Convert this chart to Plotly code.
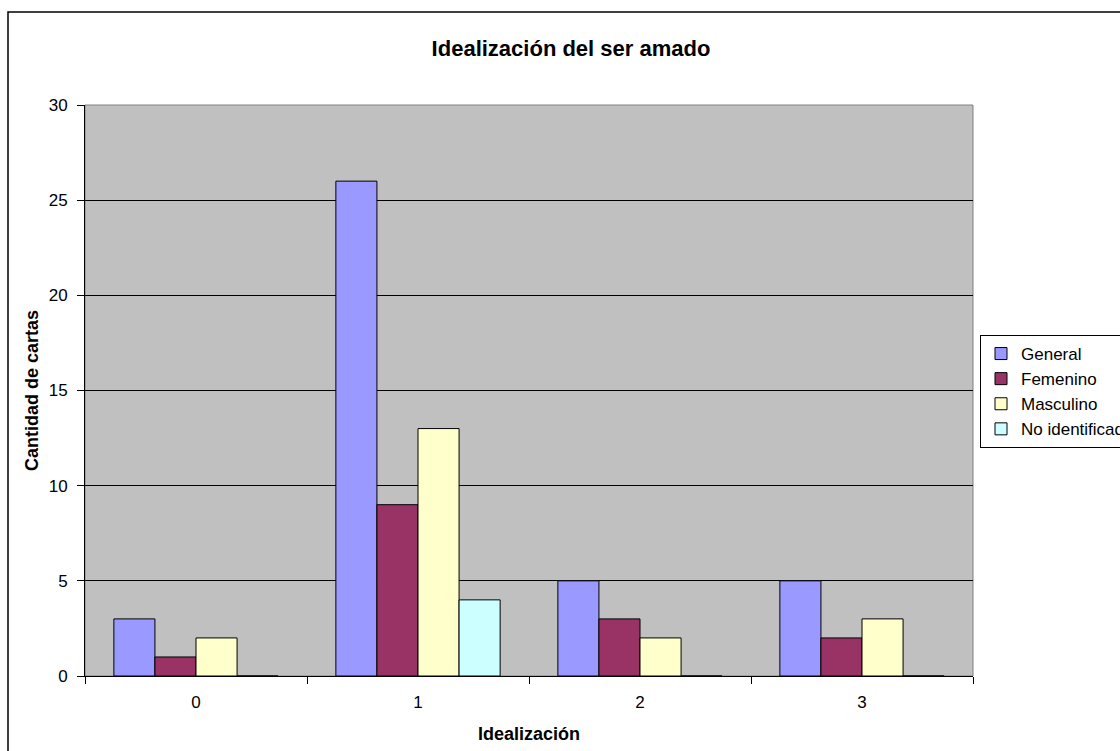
import plotly.graph_objects as go

categories = ["0", "1", "2", "3"]
general = [3, 26, 5, 5]
femenino = [1, 9, 3, 2]
masculino = [2, 13, 2, 3]
no_identificado = [0, 4, 0, 0]

series = [
    ("General", general, "#9999FF"),
    ("Femenino", femenino, "#993366"),
    ("Masculino", masculino, "#FFFFCC"),
    ("No identificado", no_identificado, "#CCFFFF"),
]

FONT = "Liberation Sans, Arial, sans-serif"

fig = go.Figure()
for name, vals, col in series:
    fig.add_trace(go.Bar(
        x=categories, y=vals, name=name,
        marker=dict(color=col, line=dict(color="black", width=1)),
    ))

W, H = 1120, 751
L, R, T, B = 85, 147, 105, 75
pw, ph = W - L - R, H - T - B

def px_x(p):
    return (p - L) / pw

def px_y(p):
    return (H - B - p) / ph

fig.update_layout(
    width=W, height=H,
    margin=dict(l=L, r=R, t=T, b=B, autoexpand=False),
    paper_bgcolor="white",
    plot_bgcolor="#C0C0C0",
    barmode="group",
    bargap=0.26,
    bargroupgap=0,
    font=dict(family=FONT, size=17, color="black"),
    title=dict(text="<b>Idealización del ser amado</b>", x=571 / W,
               xanchor="center", y=1 - 48 / H, yanchor="middle",
               font=dict(family=FONT, size=22, color="black")),
    showlegend=True,
    legend=dict(x=px_x(980), xanchor="left", y=px_y(335), yanchor="top",
                bgcolor="white", bordercolor="black", borderwidth=1,
                font=dict(family=FONT, size=17, color="black"),
                tracegroupgap=0, itemclick=False, itemwidth=30),
    xaxis=dict(
        type="category", showgrid=False, showline=True, linecolor="black", linewidth=1,
        ticks="outside", tickson="boundaries", ticklen=7, tickcolor="black",
        ticklabelstandoff=11,
        tickfont=dict(family=FONT, size=17, color="black"),
        title=dict(text="<b>Idealización</b>", font=dict(family=FONT, size=18, color="black"), standoff=15),
    ),
    yaxis=dict(
        range=[0, 30], dtick=5, showgrid=True, gridcolor="black", gridwidth=1,
        showline=True, linecolor="black", linewidth=1,
        ticks="outside", ticklen=7, tickcolor="black",
        ticklabelstandoff=6,
        tickfont=dict(family=FONT, size=17, color="black"),
        title=dict(text="<b>Cantidad de cartas</b>", font=dict(family=FONT, size=18, color="black"), standoff=5),
        zeroline=False,
    ),
    shapes=[
        dict(type="rect", xref="paper", yref="paper",
             x0=px_x(8), x1=px_x(1200), y0=px_y(12), y1=px_y(800),
             line=dict(color="black", width=1.5), fillcolor="rgba(0,0,0,0)", layer="below"),
        dict(type="rect", xref="paper", yref="paper", x0=0, x1=1, y0=0, y1=1,
             line=dict(color="#808080", width=1), fillcolor="rgba(0,0,0,0)", layer="below"),
    ],
)

fig.write_html("out.html", config={"displayModeBar": False},
               post_script="document.body.style.margin='0';document.body.style.overflow='hidden';")
